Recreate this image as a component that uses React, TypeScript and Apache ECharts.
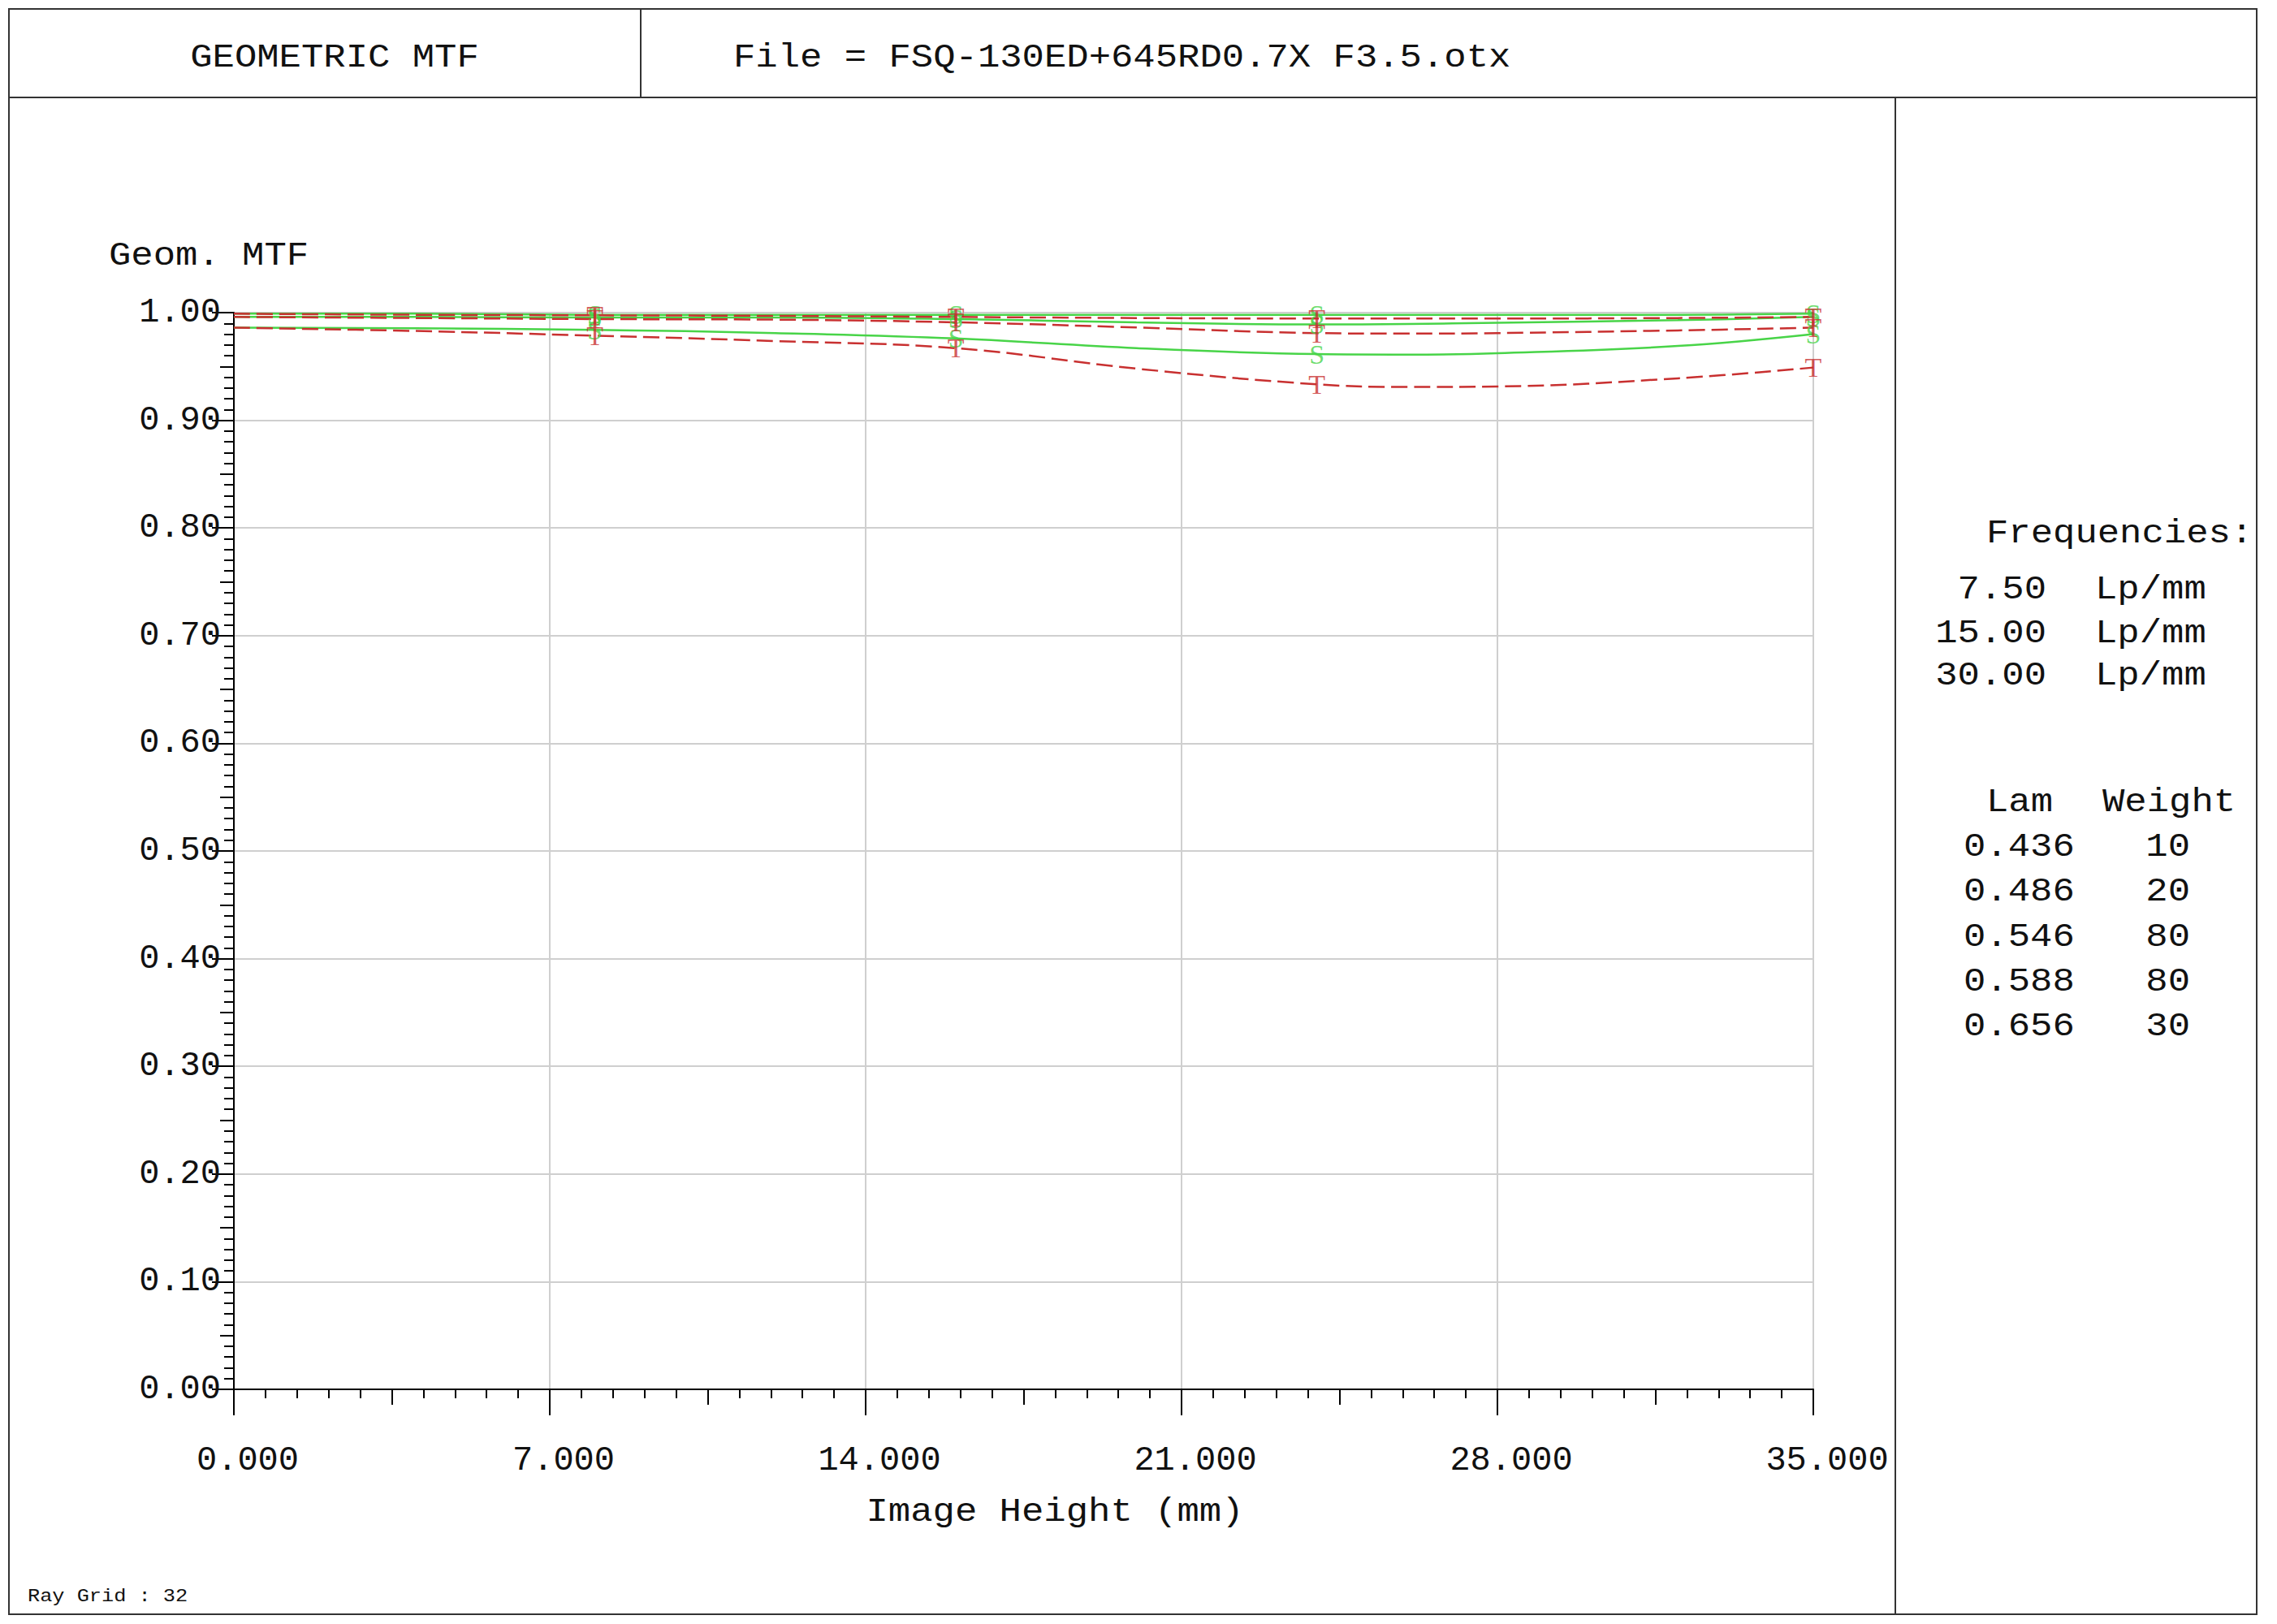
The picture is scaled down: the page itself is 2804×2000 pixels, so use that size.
import React, { useEffect, useRef } from "react";
import * as echarts from "echarts";

// ---------- data ----------
const fieldX = [0, 4, 8, 12, 16, 20, 24, 26, 28, 32, 35];
const markerIdx = [2, 4, 6, 10]; // markers drawn at 8, 16, 24, 35 mm

const s75 = [0.999, 0.999, 0.998, 0.998, 0.998, 0.998, 0.998, 0.998, 0.998, 0.998, 0.999];
const t75 = [0.999, 0.998, 0.9975, 0.997, 0.996, 0.995, 0.9945, 0.9945, 0.9945, 0.995, 0.996];
const s15 = [0.996, 0.996, 0.9955, 0.9955, 0.994, 0.991, 0.989, 0.9895, 0.9905, 0.993, 0.996];
const t15 = [0.996, 0.995, 0.994, 0.9935, 0.991, 0.9862, 0.981, 0.9805, 0.981, 0.9835, 0.986];
const s30 = [0.986, 0.9855, 0.984, 0.981, 0.976, 0.967, 0.9615, 0.961, 0.9623, 0.969, 0.98];
const t30 = [0.986, 0.983, 0.9786, 0.9736, 0.967, 0.948, 0.9334, 0.931, 0.9314, 0.939, 0.949];

const frequencies = ["7.50", "15.00", "30.00"];
const lams = ["0.436", "0.486", "0.546", "0.588", "0.656"];
const weights = ["10", "20", "80", "80", "30"];

const titleText = "GEOMETRIC MTF";
const fileText = "File = FSQ-130ED+645RD0.7X F3.5.otx";
const yName = "Geom. MTF";
const xName = "Image Height (mm)";
const rayGrid = "Ray Grid : 32";

const RED = "#c83030";
const GREEN = "#48d448";
const MONO = '"Liberation Mono", "DejaVu Sans Mono", monospace';

function txt(text: string, x: number, y: number, align = "left", size = 40, sx = 1.14) {
  return {
    type: "text",
    x,
    y,
    scaleX: sx,
    silent: true,
    style: {
      text,
      fill: "#111",
      font: `${size}px ${MONO}`,
      align,
      verticalAlign: "middle",
      textAlign: align,
      textVerticalAlign: "middle",
    },
  };
}

function hline(x1: number, y1: number, x2: number, y2: number) {
  return {
    type: "line",
    silent: true,
    shape: { x1, y1, x2, y2 },
    style: { stroke: "#333", lineWidth: 2 },
  };
}

export default function App() {
  const ref = useRef<HTMLDivElement>(null);

  useEffect(() => {
    if (!ref.current) return;
    const chart = echarts.init(ref.current, null, { renderer: "svg" });

    const pts = (v: number[]) => fieldX.map((x, i) => [x, v[i]]);
    const marks = (v: number[]) => markerIdx.map((i) => [fieldX[i], v[i]]);

    const curves = [
      { name: "S 7.5", v: s75, c: GREEN, dashed: false, letter: "S" },
      { name: "S 15", v: s15, c: GREEN, dashed: false, letter: "S" },
      { name: "S 30", v: s30, c: GREEN, dashed: false, letter: "S" },
      { name: "T 7.5", v: t75, c: RED, dashed: true, letter: "T" },
      { name: "T 15", v: t15, c: RED, dashed: true, letter: "T" },
      { name: "T 30", v: t30, c: RED, dashed: true, letter: "T" },
    ];

    const lineSeries = curves.map((c, k) => ({
      type: "line",
      name: c.name,
      data: pts(c.v),
      smooth: 0.4,
      symbol: "none",
      z: 3 + k,
      lineStyle: { color: c.c, width: 2.5, type: c.dashed ? [20, 8] : "solid" },
    }));

    const markSeries = curves.map((c, k) => ({
      type: "scatter",
      name: c.name + " marks",
      data: marks(c.v),
      symbolSize: 1,
      itemStyle: { color: "rgba(0,0,0,0)" },
      z: 20 + k,
      label: {
        show: true,
        position: "inside",
        formatter: c.letter,
        color: c.c,
        fontSize: 34,
        fontFamily: '"Liberation Serif", serif',
      },
    }));

    const tickStyle = { color: "#000", width: 2 };
    const gridStyle = { color: "#cfcfcf", width: 2 };

    const graphic: any[] = [
      {
        type: "rect",
        silent: true,
        shape: { x: 11, y: 11, width: 2768, height: 1977 },
        style: { fill: "none", stroke: "#333", lineWidth: 2 },
      },
      hline(11, 120, 2779, 120),
      hline(789, 11, 789, 120),
      hline(2334, 120, 2334, 1988),
      txt(titleText, 412, 71, "center"),
      txt(fileText, 903, 71, "left"),
      txt(yName, 134, 315, "left"),
      txt(xName, 1299, 1862, "center"),
      txt("Frequencies:", 2446, 657, "left"),
      txt("Lam", 2446, 988, "left"),
      txt("Weight", 2589, 988, "left"),
      txt(rayGrid, 34, 1966, "left", 22, 1.15),
    ];
    const freqY = [726, 780, 832];
    frequencies.forEach((f, i) => {
      graphic.push(txt(f, 2520, freqY[i], "right"));
      graphic.push(txt("Lp/mm", 2580, freqY[i], "left"));
    });
    const lamY = [1043, 1098, 1154, 1209, 1264];
    lams.forEach((l, i) => {
      graphic.push(txt(l, 2418, lamY[i], "left"));
      graphic.push(txt(weights[i], 2697, lamY[i], "right"));
    });

    chart.setOption({
      animation: false,
      backgroundColor: "#ffffff",
      grid: { left: 288, top: 385, width: 1945, height: 1326, containLabel: false },
      xAxis: [
        {
          type: "value",
          min: 0,
          max: 35,
          interval: 7,
          position: "bottom",
          axisLine: { show: true, onZero: false, lineStyle: tickStyle },
          axisTick: { show: true, length: 32, lineStyle: tickStyle },
          minorTick: { show: true, splitNumber: 10, length: 11, lineStyle: tickStyle },
          splitLine: { show: true, lineStyle: gridStyle },
          axisLabel: {
            show: true,
            showMinLabel: true,
            showMaxLabel: true,
            formatter: (v: number) => v.toFixed(3),
            margin: 67,
            fontSize: 42,
            fontFamily: MONO,
            color: "#111",
            padding: [0, 0, 0, 34],
          },
        },
        {
          type: "value",
          min: 0,
          max: 35,
          interval: 3.5,
          position: "bottom",
          axisLine: { show: false },
          axisTick: { show: true, length: 19, lineStyle: tickStyle },
          axisLabel: { show: false },
          splitLine: { show: false },
        },
      ],
      yAxis: [
        {
          type: "value",
          min: 0,
          max: 1,
          interval: 0.1,
          position: "left",
          axisLine: { show: true, onZero: false, lineStyle: tickStyle },
          axisTick: { show: true, length: 27, lineStyle: tickStyle },
          minorTick: { show: true, splitNumber: 10, length: 12, lineStyle: tickStyle },
          splitLine: { show: true, lineStyle: gridStyle },
          axisLabel: {
            show: true,
            showMinLabel: true,
            showMaxLabel: true,
            formatter: (v: number) => v.toFixed(2),
            margin: 16,
            fontSize: 42,
            fontFamily: MONO,
            color: "#111",
            padding: [4, 0, 0, 0],
          },
        },
        {
          type: "value",
          min: 0,
          max: 1,
          interval: 0.05,
          position: "left",
          offset: 0,
          axisLine: { show: false },
          axisTick: { show: true, length: 17, lineStyle: tickStyle },
          axisLabel: { show: false },
          splitLine: { show: false },
        },
      ],
      series: [...lineSeries, ...markSeries],
      graphic,
    });

    return () => chart.dispose();
  }, []);

  return (
    <div
      ref={ref}
      style={{ position: "absolute", left: 0, top: 0, width: 2804, height: 2000, background: "#fff" }}
    />
  );
}
